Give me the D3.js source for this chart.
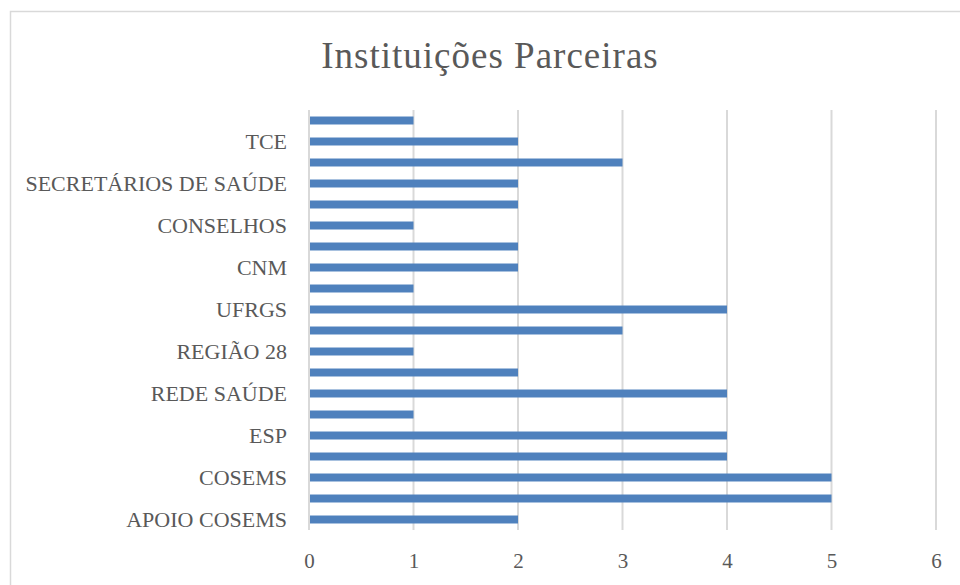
<!DOCTYPE html>
<html>
<head>
<meta charset="utf-8">
<script src="https://cdn.jsdelivr.net/npm/d3@7"></script>
<style>
  body { margin: 0; background: #fff; }
  text { font-family: "Liberation Serif", "DejaVu Serif", serif; fill: #595959; }
</style>
</head>
<body>
<div class="chart"></div>
<script>
// categories bottom -> top; only every other label is shown (others unreadable)
var categories = ["APOIO COSEMS", "", "COSEMS", "", "ESP", "", "REDE SAÚDE", "", "REGIÃO 28", "",
                  "UFRGS", "", "CNM", "", "CONSELHOS", "", "SECRETÁRIOS DE SAÚDE", "", "TCE", ""];
var values = [2, 5, 5, 4, 4, 1, 4, 2, 1, 3, 4, 1, 2, 2, 1, 2, 2, 3, 2, 1];
var xTicks = [0, 1, 2, 3, 4, 5, 6];
var title = "Instituições Parceiras";

var svgWidth = 960, svgHeight = 585;
var margin = {top: 110, left: 309, right: 24, bottom: 55};
var width = svgWidth - margin.left - margin.right;
var height = svgHeight - margin.top - margin.bottom;

var svg = d3.select(".chart").append("svg")
  .attr("width", svgWidth)
  .attr("height", svgHeight);

// outer chart border (cut off at right and bottom)
svg.append("rect")
  .attr("x", 10.5).attr("y", 11.5)
  .attr("width", 1000).attr("height", 700)
  .attr("fill", "#fff")
  .attr("stroke", "#d9d9d9")
  .attr("stroke-width", 1.5);

svg.append("text")
  .attr("x", 490).attr("y", 68)
  .attr("text-anchor", "middle")
  .attr("font-size", 37)
  .attr("letter-spacing", 1)
  .text(title);

var chartGroup = svg.append("g")
  .attr("transform", `translate(${margin.left}, ${margin.top})`);

var idx = d3.range(categories.length);

var x = d3.scaleLinear().domain([0, 6]).range([0, 627]);
var y = d3.scaleBand().domain(idx.slice().reverse()).range([0, height]).paddingInner(0.62).paddingOuter(0.31);

// vertical gridlines
chartGroup.selectAll(".grid")
  .data(xTicks)
  .enter()
  .append("line")
  .attr("x1", d => x(d)).attr("x2", d => x(d))
  .attr("y1", 0).attr("y2", height)
  .attr("stroke", "#d9d9d9")
  .attr("stroke-width", 2);

// bars
chartGroup.selectAll(".bar")
  .data(idx)
  .enter()
  .append("rect")
  .attr("x", x(0) + 1)
  .attr("y", i => y(i))
  .attr("width", i => x(values[i]) - x(0) - 1)
  .attr("height", y.bandwidth())
  .attr("fill", "#4f81bd");

// y axis labels
var yAxis = d3.axisLeft(y).tickSize(0).tickPadding(22).tickFormat(i => categories[i]);
var yg = chartGroup.append("g").call(yAxis);
yg.select(".domain").remove();
yg.selectAll("text").attr("font-size", 22).attr("fill", "#595959")
  .style("font-family", "'Liberation Serif', serif");

// x axis labels
var xAxis = d3.axisBottom(x).tickValues(xTicks).tickSize(0).tickPadding(23).tickFormat(d3.format("d"));
var xg = chartGroup.append("g").attr("transform", `translate(0, ${height})`).call(xAxis);
xg.select(".domain").remove();
xg.selectAll("text").attr("font-size", 21).attr("fill", "#595959")
  .style("font-family", "'Liberation Serif', serif");
</script>
</body>
</html>
